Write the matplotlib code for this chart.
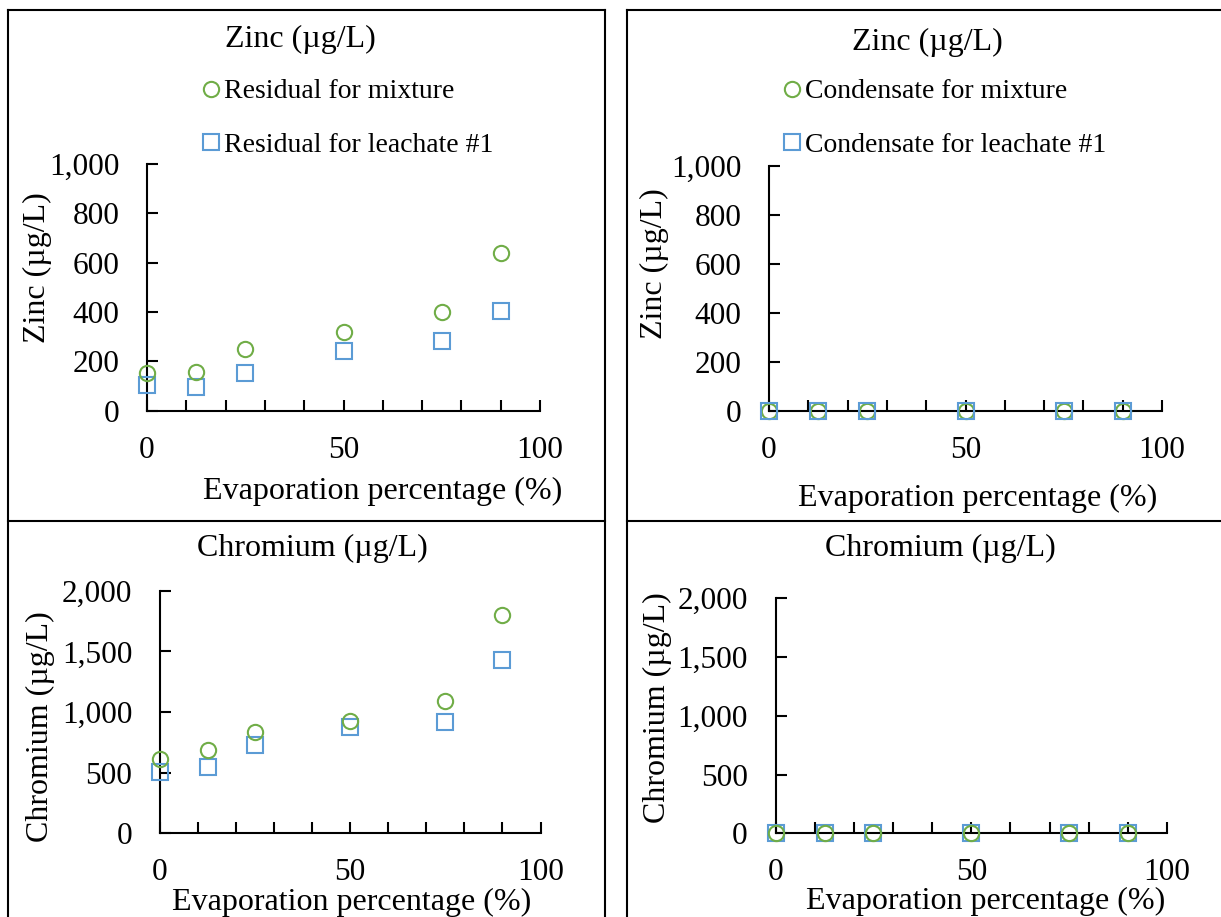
import matplotlib
matplotlib.use("Agg")
import matplotlib.pyplot as plt
from matplotlib.lines import Line2D
from matplotlib.ticker import FuncFormatter, MultipleLocator

W, H = 1221, 917

evap = [0, 12.5, 25, 50, 75, 90]
zinc_residual_mixture = [154, 158, 251, 318, 399, 638]
zinc_residual_leachate = [104, 97, 154, 243, 284, 404]
zinc_condensate_mixture = [0, 0, 0, 0, 0, 0]
zinc_condensate_leachate = [0, 0, 0, 0, 0, 0]
chromium_residual_mixture = [613, 687, 835, 929, 1093, 1799]
chromium_residual_leachate = [503, 549, 728, 874, 918, 1426]
chromium_condensate_mixture = [0, 0, 0, 0, 0, 0]
chromium_condensate_leachate = [0, 0, 0, 0, 0, 0]

GREEN = "#70AD47"
BLUE = "#5B9BD5"
LABEL_SIZE = 23
TICK_SIZE = 22.5
LEGEND_SIZE = 20
MARKER_SIZE = 11

plt.rcParams["font.family"] = ["Liberation Serif", "DejaVu Serif"]


def fx(px):
    return px / W


def fy(py):
    return 1 - py / H


def add_panel_axes(fig, left, top, right, bottom):
    ax = fig.add_axes([fx(left), fy(bottom), (right - left) / W, (bottom - top) / H])
    for side in ("top", "right"):
        ax.spines[side].set_visible(False)
    for side in ("left", "bottom"):
        ax.spines[side].set_linewidth(1.5)
    ax.set_xlim(0, 100)
    ax.xaxis.set_major_locator(MultipleLocator(50))
    ax.xaxis.set_minor_locator(MultipleLocator(10))
    ax.tick_params(axis="both", which="both", direction="in", width=1.5, labelsize=TICK_SIZE)
    ax.tick_params(axis="x", which="major", length=8, pad=18)
    ax.tick_params(axis="x", which="minor", length=8)
    ax.tick_params(axis="y", which="major", length=8, pad=20)
    ax.yaxis.set_major_formatter(FuncFormatter(lambda v, _: f"{int(v):,}"))
    ax.set_facecolor("none")
    return ax


def scatter(ax, y, marker, color, zorder):
    ax.plot(evap, y, linestyle="none", marker=marker, markersize=MARKER_SIZE,
            markerfacecolor="none", markeredgecolor=color, markeredgewidth=1.5,
            clip_on=False, zorder=zorder)


def label_axes(fig, ax, title, title_xy, ylabel, ylabel_xy, xlabel_xy):
    fig.text(fx(title_xy[0]), fy(title_xy[1]), title, ha="center", va="center",
             fontsize=LABEL_SIZE)
    fig.text(fx(ylabel_xy[0]), fy(ylabel_xy[1]), ylabel, ha="center", va="center",
             rotation=90, fontsize=LABEL_SIZE)
    fig.text(fx(xlabel_xy[0]), fy(xlabel_xy[1]), "Evaporation percentage (%)",
             ha="center", va="center", fontsize=LABEL_SIZE)


def add_legend(fig, labels, x, y):
    handles = [
        Line2D([], [], linestyle="none", marker="o", markersize=MARKER_SIZE,
               markerfacecolor="none", markeredgecolor=GREEN, markeredgewidth=1.5),
        Line2D([], [], linestyle="none", marker="s", markersize=MARKER_SIZE,
               markerfacecolor="none", markeredgecolor=BLUE, markeredgewidth=1.5),
    ]
    fig.legend(handles, labels, loc="upper left", bbox_to_anchor=(fx(x), fy(y)),
               frameon=False, fontsize=LEGEND_SIZE, handlelength=0.6, handletextpad=0.15,
               labelspacing=1.0, borderpad=0, borderaxespad=0)


fig = plt.figure(figsize=(W / 100, H / 100), dpi=100)

# panel borders
border_lines = [
    ((8, 10), (605, 10)), ((8, 10), (8, 917)), ((605, 10), (605, 917)),
    ((8, 521), (605, 521)),
    ((627, 10), (1221, 10)), ((627, 10), (627, 917)), ((627, 521), (1221, 521)),
]
for (x0, y0), (x1, y1) in border_lines:
    fig.add_artist(Line2D([fx(x0), fx(x1)], [fy(y0), fy(y1)], color="black", linewidth=1.5))

# top left: zinc residual
ax1 = add_panel_axes(fig, 147, 164, 540, 410.7)
ax1.set_ylim(0, 1000)
ax1.yaxis.set_major_locator(MultipleLocator(200))
scatter(ax1, zinc_residual_leachate, "s", BLUE, 3)
scatter(ax1, zinc_residual_mixture, "o", GREEN, 4)
label_axes(fig, ax1, "Zinc (µg/L)", (300, 39), "Zinc (µg/L)", (37, 268), (383, 491))
add_legend(fig, ["Residual for mixture", "Residual for leachate #1"], 203, 79)

# top right: zinc condensate
ax2 = add_panel_axes(fig, 769, 166, 1162, 410.7)
ax2.set_ylim(0, 1000)
ax2.yaxis.set_major_locator(MultipleLocator(200))
scatter(ax2, zinc_condensate_mixture, "o", GREEN, 3)
scatter(ax2, zinc_condensate_leachate, "s", BLUE, 4)
label_axes(fig, ax2, "Zinc (µg/L)", (927, 42), "Zinc (µg/L)", (654, 264), (978, 498))
add_legend(fig, ["Condensate for mixture", "Condensate for leachate #1"], 784, 79)

# bottom left: chromium residual
ax3 = add_panel_axes(fig, 160, 590.7, 540.5, 833.3)
ax3.set_ylim(0, 2000)
ax3.yaxis.set_major_locator(MultipleLocator(500))
scatter(ax3, chromium_residual_leachate, "s", BLUE, 3)
scatter(ax3, chromium_residual_mixture, "o", GREEN, 4)
label_axes(fig, ax3, "Chromium (µg/L)", (312, 548), "Chromium (µg/L)", (40, 727), (352, 902))

# bottom right: chromium condensate
ax4 = add_panel_axes(fig, 775.6, 598.3, 1167, 833.3)
ax4.set_ylim(0, 2000)
ax4.yaxis.set_major_locator(MultipleLocator(500))
scatter(ax4, chromium_condensate_leachate, "s", BLUE, 3)
scatter(ax4, chromium_condensate_mixture, "o", GREEN, 4)
label_axes(fig, ax4, "Chromium (µg/L)", (940, 548), "Chromium (µg/L)", (657, 708), (986, 901))

fig.savefig("out.png", dpi=100, facecolor="white")
